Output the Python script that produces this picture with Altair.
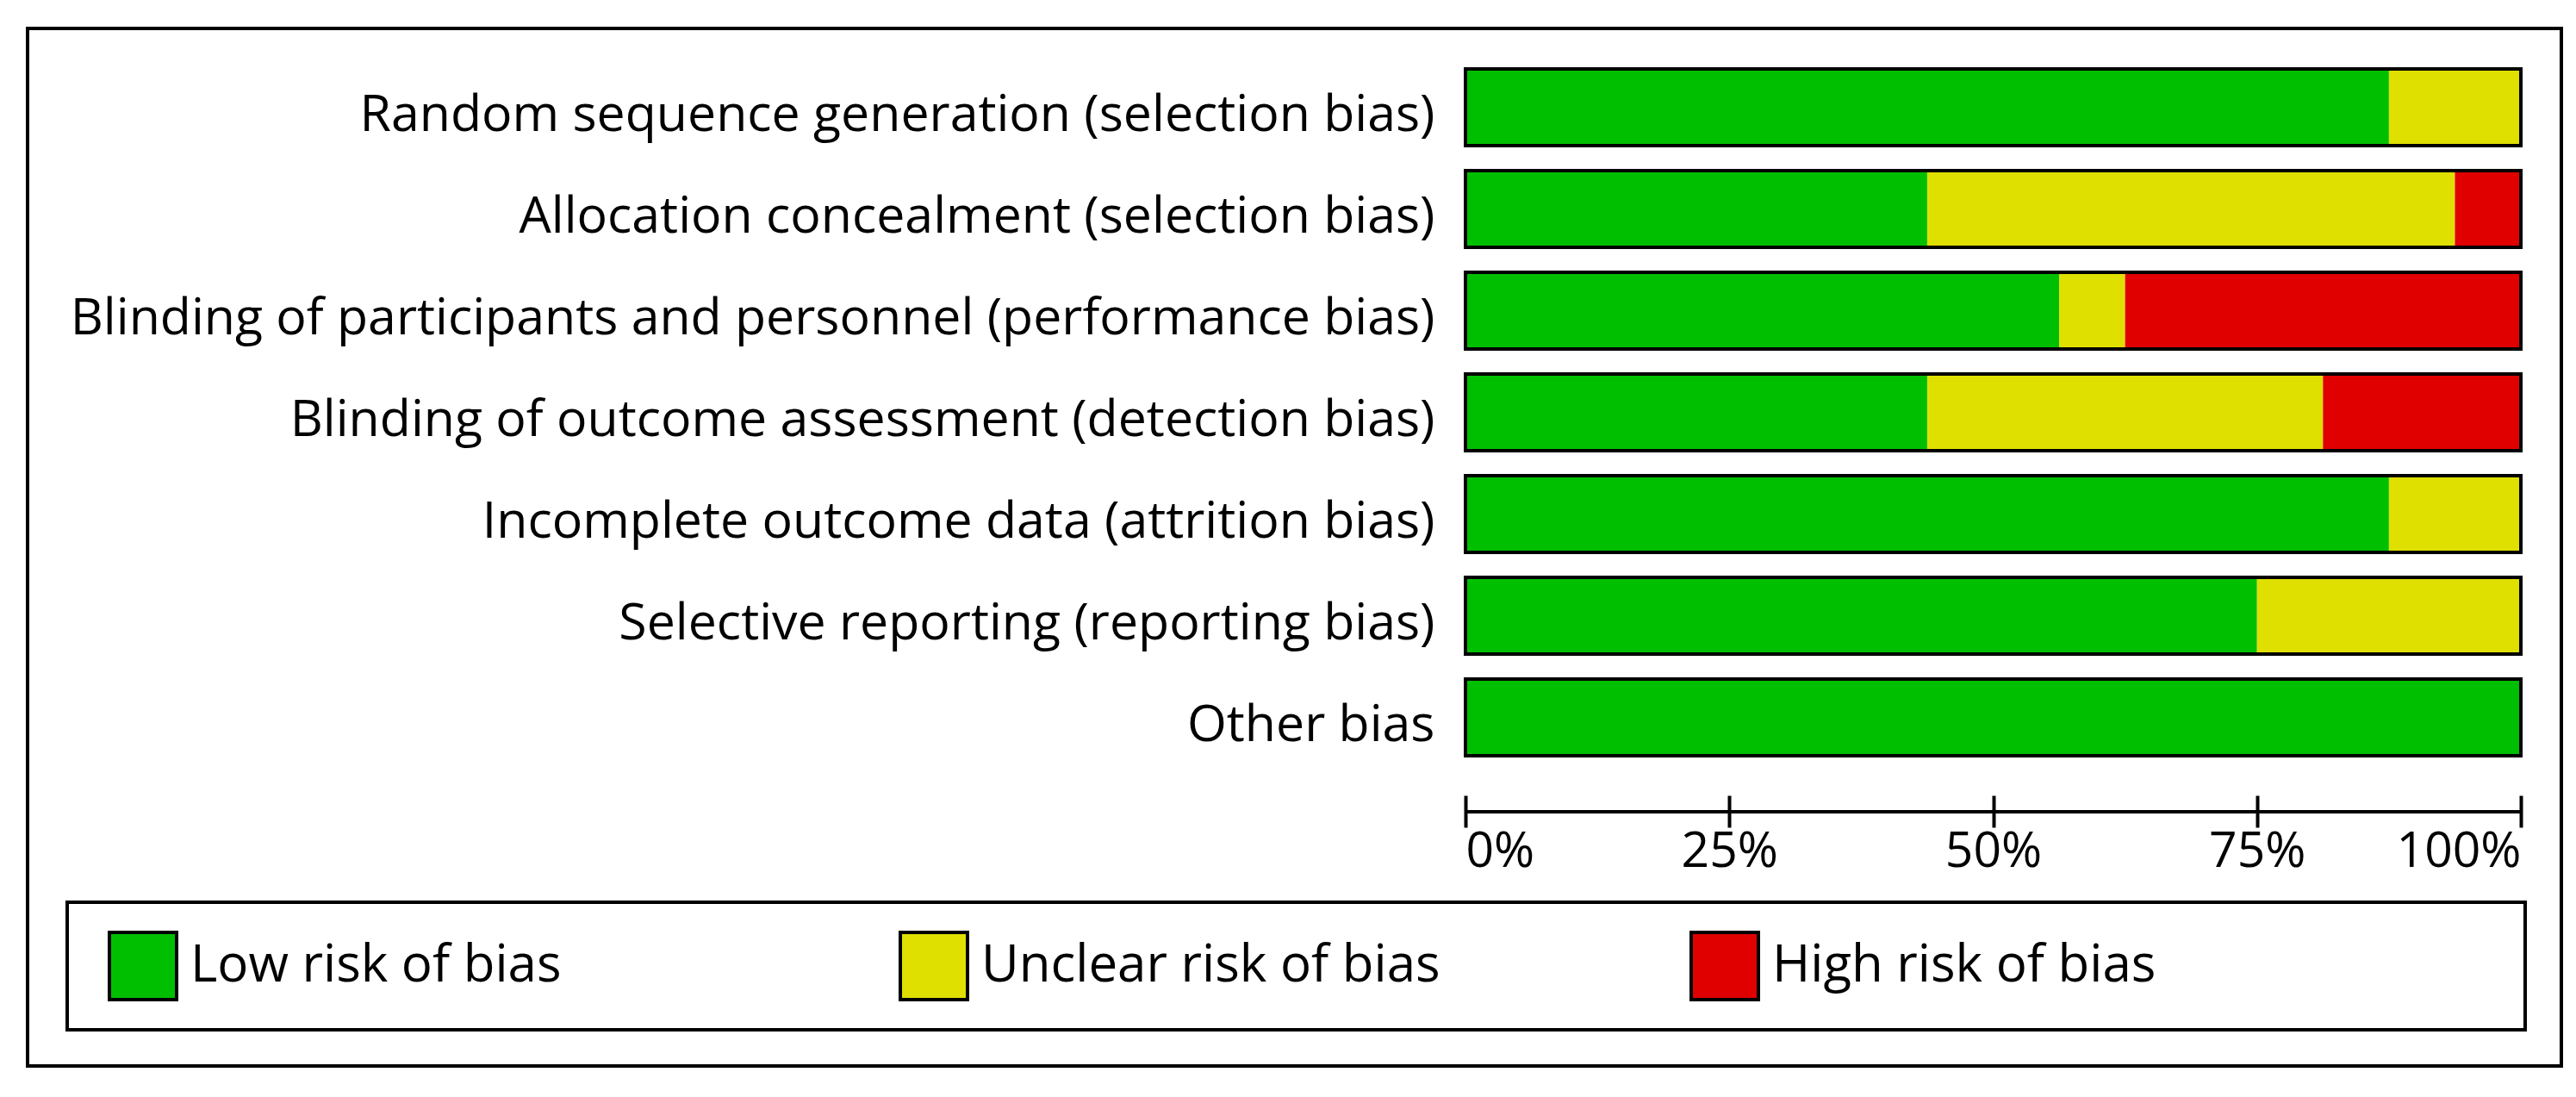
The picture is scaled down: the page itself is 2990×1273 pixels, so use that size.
import altair as alt
import pandas as pd

rows = [
    "Random sequence generation (selection bias)",
    "Allocation concealment (selection bias)",
    "Blinding of participants and personnel (performance bias)",
    "Blinding of outcome assessment (detection bias)",
    "Incomplete outcome data (attrition bias)",
    "Selective reporting (reporting bias)",
    "Other bias",
]
categories = ["Low risk of bias", "Unclear risk of bias", "High risk of bias"]
colors = ["#00BF00", "#E0E000", "#E00000"]
low = [87.5, 43.75, 56.25, 43.75, 87.5, 75.0, 100.0]
unclear = [12.5, 50.0, 6.25, 37.5, 12.5, 25.0, 0.0]
high = [0.0, 6.25, 37.5, 18.75, 0.0, 0.0, 0.0]
tick_values = [0, 25, 50, 75, 100]

FONT = "Open Sans"

recs = []
for i, r in enumerate(rows):
    for k, (cat, vals) in enumerate(zip(categories, [low, unclear, high])):
        recs.append({"row": r, "category": cat, "value": vals[i], "order": k})
df = pd.DataFrame(recs)
tot = pd.DataFrame({"row": rows, "start": [0.0] * len(rows),
                    "total": [a + b + c for a, b, c in zip(low, unclear, high)]})
one = pd.DataFrame({"k": [0]})

W, H = 1225, 826

yenc = alt.Y("row:N", sort=rows,
             scale=alt.Scale(paddingInner=0.246, paddingOuter=0.123),
             axis=alt.Axis(title=None, ticks=False, domain=False, labelFont=FONT,
                           labelFontSize=59, labelColor="black", labelPadding=36,
                           labelLimit=3000, labelOffset=9))

bars = alt.Chart(df).mark_bar(strokeWidth=0).encode(
    x=alt.X("value:Q", stack="zero",
            scale=alt.Scale(domain=[0, 100], nice=False),
            axis=alt.Axis(title=None, values=tick_values, labelExpr="datum.value + '%'",
                          domain=False, grid=False, tickSize=37, tickWidth=4,
                          tickColor="black", offset=31.5, labelFont=FONT,
                          labelFontSize=57, labelColor="black", labelPadding=0,
                          labelFlush=True)),
    y=yenc,
    color=alt.Color("category:N",
                    scale=alt.Scale(domain=categories, range=colors),
                    legend=alt.Legend(title=None, orient="none", legendX=-1576,
                                      legendY=1014.5, direction="horizontal",
                                      columns=3, gridAlign="all", columnPadding=283,
                                      symbolType="square", symbolSize=6084,
                                      symbolStrokeColor="black", symbolStrokeWidth=4,
                                      symbolOpacity=1, labelFont=FONT,
                                      labelFontSize=60, labelColor="black",
                                      labelOffset=14, padding=0, labelLimit=3000)),
    order=alt.Order("order:Q"),
)

outline = alt.Chart(tot).mark_bar(fillOpacity=0, stroke="black", strokeWidth=4).encode(
    x=alt.X("start:Q"), x2="total:Q", y=yenc,
)

axis_line = alt.Chart(one).mark_rule(color="black", strokeWidth=4).encode(
    x=alt.datum(0), x2=alt.datum(100), y=alt.value(876.5),
)

outer_box = alt.Chart(one).mark_rect(fillOpacity=0, stroke="black", strokeWidth=4).encode(
    x=alt.value(-1669), x2=alt.value(1272), y=alt.value(-32.5), y2=alt.value(1171.5),
)
legend_box = alt.Chart(one).mark_rect(fillOpacity=0, stroke="black", strokeWidth=4).encode(
    x=alt.value(-1623), x2=alt.value(1230), y=alt.value(981.5), y2=alt.value(1129.5),
)

chart = alt.layer(outer_box, legend_box, bars, outline, axis_line).properties(
    width=W, height=H,
    autosize=alt.AutoSizeParams(type="none"),
    padding={"left": 1693, "top": 57.5, "right": 50, "bottom": 360},
    background="white",
).configure_view(stroke=None)

chart.save("out.html", embed_options={"renderer": "svg", "actions": False})
